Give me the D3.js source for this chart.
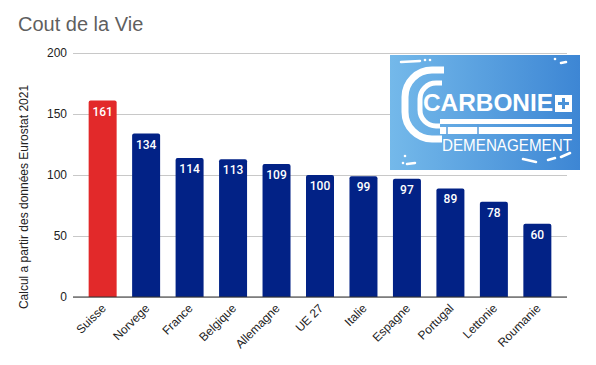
<!DOCTYPE html>
<html>
<head>
<meta charset="utf-8">
<script src="https://cdn.jsdelivr.net/npm/d3@7"></script>
<style>
  body { margin: 0; background: #fff; }
  svg { font-family: Arial, "Liberation Sans", sans-serif; }
</style>
</head>
<body>
<script>
// data
const countries = ["Suisse", "Norvege", "France", "Belgique", "Allemagne", "UE 27",
  "Italie", "Espagne", "Portugal", "Lettonie", "Roumanie"];
const costIndex = [161, 134, 114, 113, 109, 100, 99, 97, 89, 78, 60];
const yTicks = [0, 50, 100, 150, 200];

const width = 596, height = 365;
const margin = { top: 53, right: 29, bottom: 68, left: 73 };

const svg = d3.select("body").append("svg")
  .attr("width", width)
  .attr("height", height);

const x = d3.scaleBand()
  .domain(countries)
  .range([margin.left, width - margin.right])
  .paddingInner(0.356)
  .paddingOuter(0.36);

const y = d3.scaleLinear()
  .domain([0, 200])
  .range([height - margin.bottom, margin.top]);

// title
svg.append("text")
  .attr("x", 18).attr("y", 31)
  .attr("font-size", 20)
  .attr("fill", "#5f5f5f")
  .text("Cout de la Vie");

// grid + y axis
const yAxis = svg.append("g")
  .attr("transform", `translate(${margin.left},0)`)
  .call(d3.axisLeft(y).tickValues(yTicks).tickSize(-(width - margin.left - margin.right)).tickPadding(6));
yAxis.select(".domain").remove();
yAxis.selectAll(".tick line").attr("stroke", "#c8c8c8");
yAxis.selectAll(".tick text").attr("font-size", 12).attr("fill", "#222")
  .attr("font-family", "Arial, 'Liberation Sans', sans-serif");

svg.append("text")
  .attr("transform", `translate(28,${(margin.top + height - margin.bottom) / 2 + 22}) rotate(-90)`)
  .attr("text-anchor", "middle")
  .attr("font-size", 12)
  .attr("fill", "#222")
  .text("Calcul a partir des données Eurostat 2021");

// bars with rounded top corners
const r = 2;
const barPath = (d, i) => {
  const x0 = x(countries[i]), w = x.bandwidth(), y0 = y(d), y1 = y(0);
  return `M${x0},${y1}V${y0 + r}Q${x0},${y0} ${x0 + r},${y0}H${x0 + w - r}Q${x0 + w},${y0} ${x0 + w},${y0 + r}V${y1}Z`;
};

svg.append("g").selectAll("path")
  .data(costIndex)
  .join("path")
  .attr("d", barPath)
  .attr("fill", (d, i) => i === 0 ? "#e2292a" : "#022286");

svg.append("g").selectAll("text")
  .data(costIndex)
  .join("text")
  .attr("x", (d, i) => x(countries[i]) + x.bandwidth() / 2)
  .attr("y", d => y(d) + 15)
  .attr("text-anchor", "middle")
  .attr("font-family", "Roboto, Arial, sans-serif")
  .attr("font-size", 12)
  .attr("font-weight", 500)
  .attr("fill", "#fff")
  .text(d => d);

// baseline
svg.append("line")
  .attr("x1", margin.left).attr("x2", width - margin.right)
  .attr("y1", y(0)).attr("y2", y(0))
  .attr("stroke", "#333").attr("stroke-width", 1);

// x labels
svg.append("g").selectAll("text")
  .data(countries)
  .join("text")
  .attr("transform", d => `translate(${x(d) + x.bandwidth() / 2 + 4},${y(0) + 12}) rotate(-45)`)
  .attr("text-anchor", "end")
  .attr("font-size", 12)
  .attr("fill", "#222")
  .text(d => d);

// logo
const logo = svg.append("g");
const grad = svg.append("defs").append("linearGradient")
  .attr("id", "lg").attr("x1", "0").attr("x2", "1").attr("y1", "0").attr("y2", "0");
grad.append("stop").attr("offset", "0").attr("stop-color", "#74b9ea");
grad.append("stop").attr("offset", "1").attr("stop-color", "#3d86d4");

logo.append("rect")
  .attr("x", 390).attr("y", 55).attr("width", 190).attr("height", 115)
  .attr("fill", "url(#lg)");

logo.append("path")
  .attr("d", "M444,70H432A27,27 0 0 0 405,97V112A27,27 0 0 0 432,139H442")
  .attr("fill", "none").attr("stroke", "#fff").attr("stroke-width", 7);
logo.append("path")
  .attr("d", "M442,83H436A16,16 0 0 0 420,99V110A16,16 0 0 0 436,126H440")
  .attr("fill", "none").attr("stroke", "#fff").attr("stroke-width", 5);

logo.append("text")
  .attr("x", 423).attr("y", 111)
  .attr("font-size", 24).attr("font-weight", "bold")
  .attr("fill", "#fff")
  .attr("textLength", 130).attr("lengthAdjust", "spacingAndGlyphs")
  .text("CARBONIE");

logo.append("rect").attr("x", 555).attr("y", 95).attr("width", 17).attr("height", 17).attr("fill", "#fff");
logo.append("path").attr("d", "M563.5,98V109M558,103.5H569")
  .attr("stroke", "#4a92d8").attr("stroke-width", 3);

logo.append("rect").attr("x", 440).attr("y", 119).attr("width", 132).attr("height", 5).attr("fill", "#fff");
logo.append("rect").attr("x", 440).attr("y", 127).attr("width", 132).attr("height", 7).attr("fill", "#fff");
logo.append("path").attr("d", "M447,127V134M478,124V134")
  .attr("stroke", "#5a9ddc").attr("stroke-width", 1.5);

logo.append("text")
  .attr("x", 442).attr("y", 151)
  .attr("font-size", 16)
  .attr("fill", "#fff")
  .attr("textLength", 130).attr("lengthAdjust", "spacingAndGlyphs")
  .text("DEMENAGEMENT");

// little dashes and dots
logo.append("path")
  .attr("d", "M401,62L420,61M561,63L566,62M523,159L536,162M548,160L555,158M561,157L570,153M407,164L415,163")
  .attr("stroke", "#fff").attr("stroke-width", 2.5).attr("stroke-linecap", "round").attr("fill", "none");
[[425, 60], [430, 60], [555, 59], [405, 156], [403, 163]].forEach(p =>
  logo.append("circle").attr("cx", p[0]).attr("cy", p[1]).attr("r", 1.3).attr("fill", "#fff"));
</script>
</body>
</html>
